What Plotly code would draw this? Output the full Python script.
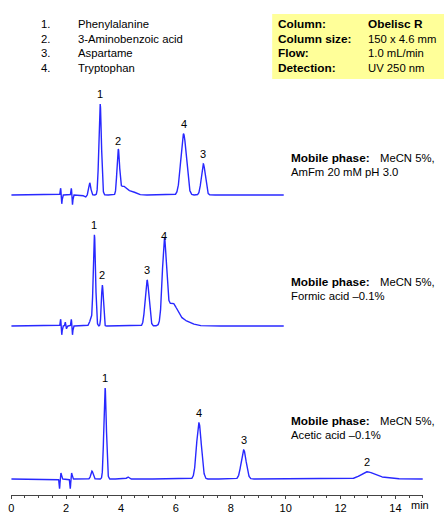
import numpy as np
import plotly.graph_objects as go

W, H = 446, 521

# ---------------- data ----------------
# Peaks: retention time (min), height (signal units), sigma (min)
trace1_times   = [1.80, 1.84, 2.19, 2.23, 2.70, 2.86, 3.24, 3.90, 4.07, 4.35, 6.28, 7.00]
trace1_heights = [7, -9, 7, -10, -2, 12, 91, 44, 8, 4, 61, 31]
trace1_sigmas  = [0.015, 0.015, 0.015, 0.015, 0.05, 0.04, 0.046, 0.046, 0.1, 0.16, 0.10, 0.072]
trace1_end = 9.93

trace2_times   = [1.80, 1.84, 1.97, 2.01, 2.19, 2.23, 2.90, 3.03, 3.32, 4.95, 5.58, 5.85, 6.20]
trace2_heights = [7, -9, 4, -3, 7, -9, 6, 91, 41, 46, 80, 20, 6]
trace2_sigmas  = [0.015, 0.015, 0.015, 0.015, 0.015, 0.015, 0.05, 0.042, 0.035, 0.07, 0.075, 0.18, 0.3]
trace2_end = 9.93

trace3_times   = [1.76, 1.81, 2.15, 2.20, 2.94, 3.42, 4.25, 6.84, 8.47, 12.95, 13.35]
trace3_heights = [-10, 6, -10, 6, 8, 91, 2, 56, 29, 6, 2]
trace3_sigmas  = [0.015, 0.02, 0.015, 0.02, 0.04, 0.045, 0.04, 0.087, 0.09, 0.22, 0.4]
trace3_end = 15.0

# labelled peaks: (peak number, time, height)
labels1 = [("1", 3.24, 91), ("2", 3.90, 44), ("4", 6.28, 61), ("3", 7.00, 31)]
labels2 = [("1", 3.03, 91), ("2", 3.32, 41), ("3", 4.95, 46), ("4", 5.58, 80)]
labels3 = [("1", 3.42, 91), ("4", 6.84, 56), ("3", 8.47, 29), ("2", 12.95, 7)]

compound_nums = ["1.", "2.", "3.", "4."]
compound_names = ["Phenylalanine", "3-Aminobenzoic acid", "Aspartame", "Tryptophan"]

cond_keys = ["Column:", "Column size:", "Flow:", "Detection:"]
cond_vals = ["Obelisc R", "150 x 4.6 mm", "1.0 mL/min", "UV 250 nm"]

mobile1 = "AmFm 20 mM pH 3.0"
mobile2 = "Formic acid \u20130.1%"
mobile3 = "Acetic acid \u20130.1%"

x_ticks = [0, 2, 4, 6, 8, 10, 12, 14]

# ---------------- layout helpers ----------------
X0_PX, X15_PX = 8.3, 422.7
base_px = [195, 326, 479]          # baseline pixel rows of the 3 chromatograms
line_color = "rgb(40,40,255)"
FONT = "Liberation Sans, Arial, Helvetica, sans-serif"
REG, BOLD = 11.3, 11.8


def px2py(py):
    return H - py  # y data unit = pixel, measured from bottom


def build(times, heights, sigmas, end, base):
    t = np.linspace(0, end, 3000)
    y = np.zeros_like(t)
    for c, h, s in zip(times, heights, sigmas):
        y += h * np.exp(-0.5 * ((t - c) / s) ** 2)
    return t, y + px2py(base)


fig = go.Figure()
for (tm, hh, ss, en), base in zip(
        [(trace1_times, trace1_heights, trace1_sigmas, trace1_end),
         (trace2_times, trace2_heights, trace2_sigmas, trace2_end),
         (trace3_times, trace3_heights, trace3_sigmas, trace3_end)], base_px):
    t, y = build(tm, hh, ss, en, base)
    fig.add_trace(go.Scatter(x=t, y=y, mode="lines",
                             line=dict(color=line_color, width=1.4),
                             hoverinfo="skip", showlegend=False))

annotations = []
for labs, base in zip([labels1, labels2, labels3], base_px):
    for txt, tt, hh in labs:
        annotations.append(dict(x=tt, y=px2py(base) + hh + 2, xref="x", yref="y",
                                text=txt, showarrow=False, yanchor="bottom",
                                font=dict(family=FONT, size=11, color="black")))


def ptext(px, py, text, bold=False, size=None, xanchor="left"):
    if size is None:
        size = BOLD if bold else REG
    return dict(x=px / W, y=1 - py / H, xref="paper", yref="paper",
                text=("<b>%s</b>" % text) if bold else text, showarrow=False,
                xanchor=xanchor, yanchor="middle", xshift=-1,
                font=dict(family=FONT, size=size, color="black"))


rows = [24.3, 39.0, 53.3, 68.0]
for r, n, nm in zip(rows, compound_nums, compound_names):
    annotations.append(ptext(37, r, n))
    annotations.append(ptext(74, r, nm))

for r, k, v in zip(rows, cond_keys, cond_vals):
    annotations.append(ptext(276, r, k, bold=True))
    annotations.append(ptext(366, r, v, bold=(k == "Column:")))

for (r1, r2), m in zip([(157.7, 172.3), (281.5, 296), (421, 435)],
                       [mobile1, mobile2, mobile3]):
    annotations.append(ptext(288.5, r1, "Mobile phase:", bold=True))
    annotations.append(ptext(379, r1, "MeCN 5%,"))
    annotations.append(ptext(288.5, r2, m))

annotations.append(ptext(420.5, 505, "min", size=11, xanchor="center"))

fig.update_layout(
    width=W, height=H,
    margin=dict(l=0, r=0, t=0, b=0),
    paper_bgcolor="white", plot_bgcolor="white",
    showlegend=False,
    hovermode=False,
    shapes=[dict(type="rect", xref="paper", yref="paper",
                 x0=271 / W, x1=444 / W, y0=1 - 79 / H, y1=1 - 14 / H,
                 fillcolor="#ffff99", line=dict(width=0), layer="below")],
    annotations=annotations,
    xaxis=dict(domain=[X0_PX / W, X15_PX / W], range=[0, 15],
               anchor="free", position=(H - 495) / H,
               showline=True, linecolor="#444444", linewidth=1,
               showgrid=False, zeroline=False, ticklabeloverflow="allow",
               tickmode="array", tickvals=x_ticks, ticktext=[str(v) for v in x_ticks],
               ticks="outside", ticklen=3, tickcolor="#444444",
               minor=dict(dtick=0.5, tick0=0, ticks="outside", ticklen=2,
                          tickcolor="#444444", showgrid=False),
               tickfont=dict(family=FONT, size=11, color="black")),
    yaxis=dict(domain=[0, 1], range=[0, H], visible=False, fixedrange=True),
)

fig.write_html("out.html", config={"displayModeBar": False, "staticPlot": True},
               post_script="document.body.style.margin='0';document.body.style.overflow='hidden';")
